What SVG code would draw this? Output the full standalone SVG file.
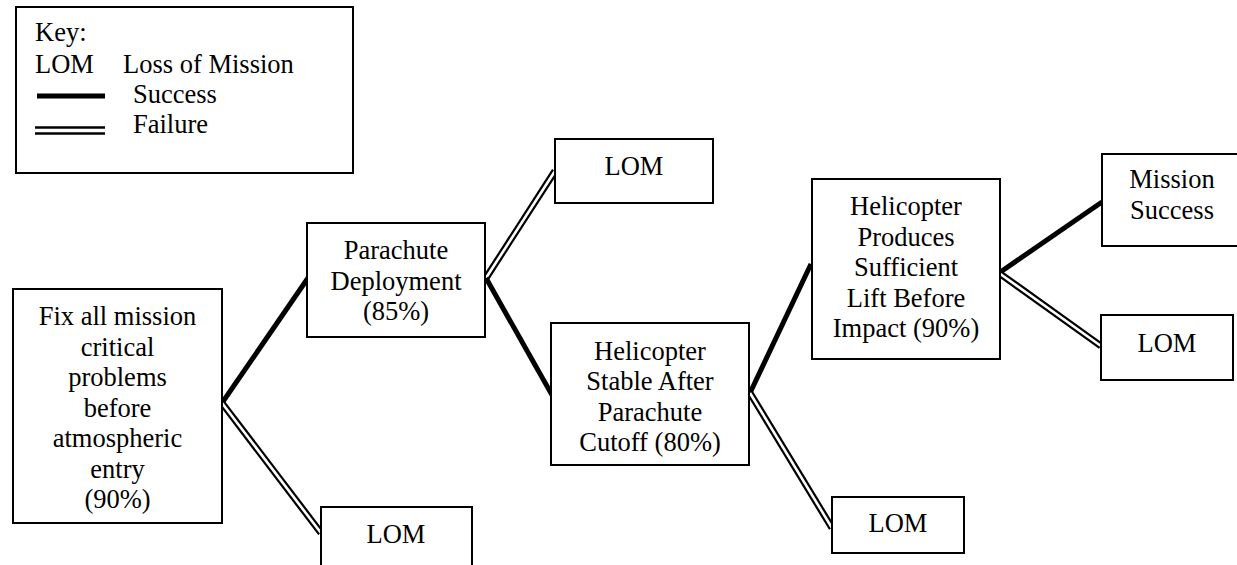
<svg xmlns="http://www.w3.org/2000/svg" width="1237" height="565" viewBox="0 0 1237 565">
<style>
.box{fill:#fff;stroke:#000;stroke-width:2}
text{font-family:'Liberation Serif','Times New Roman',Times,serif;font-size:26.5px;fill:#000}
.c{text-anchor:middle}
.succ{stroke:#000;stroke-width:5;fill:none}
.failo{stroke:#000;stroke-width:7;fill:none}
.faili{stroke:#fff;stroke-width:2.6;fill:none}
</style>
<rect width="1237" height="565" fill="#fff"/>
<g id="key">
<rect class="box" x="16" y="7" width="337" height="166"/>
<text x="35" y="41">Key:</text>
<text x="35" y="73">LOM</text>
<text x="123" y="73">Loss of Mission</text>
<line class="succ" x1="37" y1="96" x2="105" y2="96"/>
<text x="133" y="103">Success</text>
<line x1="35" y1="127.5" x2="105" y2="127.5" stroke="#000" stroke-width="2.5"/>
<line x1="35" y1="133.5" x2="105" y2="133.5" stroke="#000" stroke-width="2.5"/>
<text x="133" y="133">Failure</text>
</g>
<g id="connectors">
<line class="succ" x1="222" y1="403" x2="308" y2="278"/>
<line class="failo" x1="222" y1="403" x2="321" y2="533"/>
<line class="faili" x1="222" y1="403" x2="321" y2="533"/>
<line class="failo" x1="486" y1="278" x2="555" y2="171"/>
<line class="faili" x1="486" y1="278" x2="555" y2="171"/>
<line class="succ" x1="486" y1="278" x2="552" y2="395"/>
<line class="succ" x1="750" y1="393" x2="811" y2="264"/>
<line class="failo" x1="750" y1="393" x2="832" y2="528"/>
<line class="faili" x1="750" y1="393" x2="832" y2="528"/>
<line class="succ" x1="999" y1="273" x2="1102" y2="202"/>
<line class="failo" x1="999" y1="273" x2="1101" y2="346"/>
<line class="faili" x1="999" y1="273" x2="1101" y2="346"/>
</g>
<g id="fix">
<rect class="box" x="13" y="289" width="209" height="234"/>
<text class="c" x="117.5" y="325">Fix all mission</text>
<text class="c" x="117.5" y="355.5">critical</text>
<text class="c" x="117.5" y="386">problems</text>
<text class="c" x="117.5" y="416.5">before</text>
<text class="c" x="117.5" y="447">atmospheric</text>
<text class="c" x="117.5" y="477.5">entry</text>
<text class="c" x="117.5" y="508">(90%)</text>
</g>
<g id="parachute">
<rect class="box" x="307" y="223" width="178" height="114"/>
<text class="c" x="396" y="259">Parachute</text>
<text class="c" x="396" y="290">Deployment</text>
<text class="c" x="396" y="320">(85%)</text>
</g>
<g id="lom1">
<rect class="box" x="555" y="139" width="158" height="64"/>
<text class="c" x="634" y="175">LOM</text>
</g>
<g id="lom2">
<rect class="box" x="321" y="507" width="151" height="70"/>
<text class="c" x="396" y="543">LOM</text>
</g>
<g id="stable">
<rect class="box" x="551" y="323" width="198" height="142"/>
<text class="c" x="650" y="359.5">Helicopter</text>
<text class="c" x="650" y="390">Stable After</text>
<text class="c" x="650" y="420.5">Parachute</text>
<text class="c" x="650" y="451">Cutoff (80%)</text>
</g>
<g id="lom3">
<rect class="box" x="832" y="497" width="132" height="56"/>
<text class="c" x="898" y="532">LOM</text>
</g>
<g id="lift">
<rect class="box" x="812" y="179" width="188" height="180"/>
<text class="c" x="906" y="215">Helicopter</text>
<text class="c" x="906" y="245.5">Produces</text>
<text class="c" x="906" y="276">Sufficient</text>
<text class="c" x="906" y="306.5">Lift Before</text>
<text class="c" x="906" y="337">Impact (90%)</text>
</g>
<g id="success">
<rect class="box" x="1102" y="154" width="140" height="92"/>
<text class="c" x="1172" y="188">Mission</text>
<text class="c" x="1172" y="219">Success</text>
</g>
<g id="lom4">
<rect class="box" x="1101" y="315" width="132" height="65"/>
<text class="c" x="1167" y="352">LOM</text>
</g>
</svg>
